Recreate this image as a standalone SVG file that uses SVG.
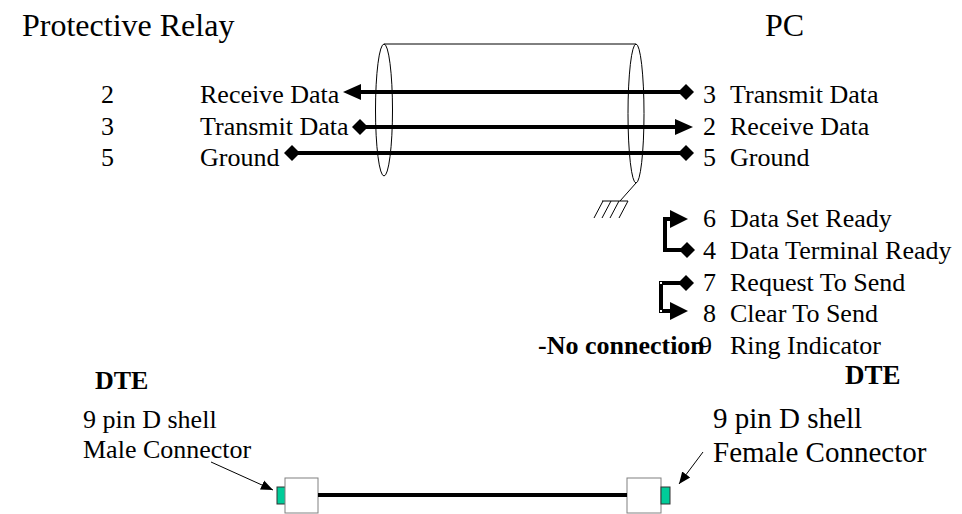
<svg xmlns="http://www.w3.org/2000/svg" width="962" height="514" viewBox="0 0 962 514">
<style>
text{font-family:"Liberation Serif","Times New Roman",serif;font-size:26px;fill:#000}
.title{font-size:32px}
.b{font-weight:bold}
.lblr{font-size:29px}
.wire{stroke:#000;stroke-width:4;fill:none}
.thin{stroke:#000;stroke-width:1;fill:none}
.box{fill:#fff;stroke:#808080;stroke-width:1}
.tab{fill:#00cc99;stroke:#333;stroke-width:1}
</style>
<defs>
<marker id="arr" markerUnits="userSpaceOnUse" markerWidth="18" markerHeight="18" viewBox="0 0 18 18" refX="9" refY="9" orient="auto-start-reverse"><path d="M0,1 L18,9 L0,17 Z" fill="#000"/></marker>
<marker id="dia" markerUnits="userSpaceOnUse" markerWidth="16" markerHeight="16" viewBox="0 0 16 16" refX="8" refY="8" orient="auto"><path d="M0,8 L8,0 L16,8 L8,16 Z" fill="#000"/></marker>
<marker id="sarr" markerUnits="userSpaceOnUse" markerWidth="12" markerHeight="12" viewBox="0 0 12 12" refX="12" refY="6" orient="auto"><path d="M0,1 L12,6 L0,11 Z" fill="#000"/></marker>
</defs>

<g id="labels-left">
<text class="title" x="22" y="36">Protective Relay</text>
<text x="101" y="103">2</text><text x="200" y="103">Receive Data</text>
<text x="101" y="135">3</text><text x="200" y="135">Transmit Data</text>
<text x="101" y="166">5</text><text x="200" y="166">Ground</text>
</g>

<g id="labels-right">
<text class="title" x="765" y="36">PC</text>
<text x="703" y="103">3</text><text x="730" y="103">Transmit Data</text>
<text x="703" y="135">2</text><text x="730" y="135">Receive Data</text>
<text x="703" y="166">5</text><text x="730" y="166">Ground</text>
<text x="703" y="227">6</text><text x="730" y="227">Data Set Ready</text>
<text x="703" y="259">4</text><text x="730" y="259">Data Terminal Ready</text>
<text x="703" y="291">7</text><text x="730" y="291">Request To Send</text>
<text x="703" y="322">8</text><text x="730" y="322">Clear To Send</text>
<text class="b" x="538" y="354">-No connection</text>
<text x="699" y="354">9</text><text x="730" y="354">Ring Indicator</text>
</g>

<g id="cable-shield">
<ellipse cx="384" cy="110" rx="8.5" ry="66" class="thin"/>
<ellipse cx="636" cy="113.5" rx="8" ry="69.5" class="thin"/>
<line x1="384" y1="44" x2="636" y2="44" class="thin"/>
<line x1="636" y1="183" x2="620" y2="201" class="thin"/>
<path class="thin" d="M602,201 H628 M603,201 L594,218 M611,201 L602,218 M619,201 L610,218 M628,201 L619,218"/>
</g>

<g id="connectors">
<line class="wire" x1="352" y1="92" x2="686" y2="92" marker-start="url(#arr)" marker-end="url(#dia)"/>
<line class="wire" x1="360" y1="127" x2="684" y2="127" marker-start="url(#dia)" marker-end="url(#arr)"/>
<line class="wire" x1="292" y1="153" x2="686" y2="153" marker-start="url(#dia)" marker-end="url(#dia)"/>
<polyline class="wire" points="679,219 665,219 665,250 687,250" marker-end="url(#dia)"/>
<path d="M670,210 L688,219 L670,228 Z" fill="#000"/>
<polyline class="wire" points="686,283 661,283 661,311 679,311" marker-start="url(#dia)"/>
<path d="M670,302 L688,311 L670,320 Z" fill="#000"/>
<g fill="#fff"><rect x="660" y="282" width="2" height="2"/><rect x="660" y="310" width="2" height="2"/></g>
</g>

<g id="bottom-labels">
<text class="b" x="95" y="389">DTE</text>
<text x="83" y="428">9 pin D shell</text>
<text x="83" y="458">Male Connector</text>
<text class="b" style="font-size:27px" x="845" y="384">DTE</text>
<text class="lblr" x="713" y="428">9 pin D shell</text>
<text class="lblr" x="713" y="462">Female Connector</text>
</g>

<g id="male-connector">
<rect class="tab" x="277" y="487" width="9" height="17"/>
<rect class="box" x="285" y="478" width="33" height="35"/>
</g>
<g id="female-connector">
<rect class="box" x="627" y="478" width="34" height="35"/>
<rect class="tab" x="661" y="487" width="9" height="17"/>
</g>
<g id="bottom-connectors">
<line class="wire" x1="318" y1="495" x2="627" y2="495"/>
<line class="thin" x1="211" y1="462" x2="273" y2="490" marker-end="url(#sarr)"/>
<line class="thin" x1="703" y1="452" x2="679" y2="484" marker-end="url(#sarr)"/>
</g>
</svg>
